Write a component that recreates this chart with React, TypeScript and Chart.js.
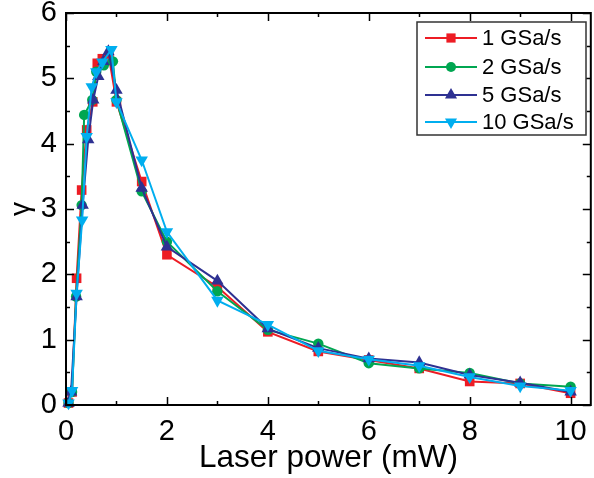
import React, { useEffect, useRef } from 'react';
import { Chart, registerables } from 'chart.js';

Chart.register(...registerables);

// ---- data ----
const seriesLabels = ['1 GSa/s', '2 GSa/s', '5 GSa/s', '10 GSa/s'];
const seriesColors = ['#ED1C24', '#00A651', '#2E3192', '#00AEEF'];
const seriesMarkers = ['rect', 'circle', 'triangle', 'triangleDown'];

const xTail = [1.5, 2, 3, 4, 5, 6, 7, 8, 9, 10];

const x1 = [0.05, 0.12, 0.21, 0.31, 0.41, 0.53, 0.62, 0.72, 0.85, 1.0, ...xTail];
const y1 = [0.03, 0.2, 1.94, 3.29, 4.21, 4.64, 5.23, 5.3, 5.33, 4.64, 3.42, 2.3, 1.81, 1.12, 0.82, 0.69, 0.56, 0.36, 0.33, 0.18];

const x2 = [0.05, 0.12, 0.2, 0.31, 0.36, 0.52, 0.6, 0.75, 0.93, 1.0, ...xTail];
const y2 = [0.03, 0.2, 1.66, 3.06, 4.44, 4.67, 5.1, 5.2, 5.26, 4.67, 3.27, 2.5, 1.74, 1.15, 0.94, 0.64, 0.56, 0.49, 0.33, 0.28];

const x5 = [0.05, 0.1, 0.21, 0.33, 0.44, 0.54, 0.64, 0.74, 0.84, 1.0, ...xTail];
const y5 = [0.03, 0.2, 1.66, 3.06, 4.06, 4.67, 5.03, 5.26, 5.41, 4.82, 3.32, 2.42, 1.9, 1.17, 0.87, 0.71, 0.65, 0.46, 0.34, 0.2];

const x10 = [0.05, 0.12, 0.21, 0.32, 0.41, 0.51, 0.6, 0.72, 0.9, 1.0, ...xTail];
const y10 = [0.03, 0.22, 1.71, 2.83, 4.11, 4.87, 5.1, 5.25, 5.44, 4.64, 3.75, 2.65, 1.6, 1.23, 0.83, 0.7, 0.6, 0.43, 0.29, 0.22];

const seriesX = [x1, x2, x5, x10];
const seriesY = [y1, y2, y5, y10];

const xMajorTicks = [0, 2, 4, 6, 8, 10];
const xMinorTicks = [1, 3, 5, 7, 9];
const yMajorTicks = [0, 1, 2, 3, 4, 5, 6];
const yMinorTicks = [0.5, 1.5, 2.5, 3.5, 4.5, 5.5];

const xTitle = 'Laser power (mW)';
const yTitle = 'γ';

const FONT = "'Liberation Sans', Arial, Helvetica, sans-serif";

function drawMarker(ctx: CanvasRenderingContext2D, kind: string, x: number, y: number, color: string) {
  ctx.fillStyle = color;
  ctx.beginPath();
  if (kind === 'rect') {
    const s = 4.6;
    ctx.rect(x - s, y - s, 2 * s, 2 * s);
  } else if (kind === 'circle') {
    ctx.arc(x, y, 5, 0, Math.PI * 2);
  } else {
    const r = 7;
    const base = kind === 'triangle' ? 0 : Math.PI;
    for (let i = 0; i < 3; i++) {
      const a = base + (i * 2 * Math.PI) / 3;
      const px = x + Math.sin(a) * r;
      const py = y - Math.cos(a) * r;
      if (i === 0) ctx.moveTo(px, py); else ctx.lineTo(px, py);
    }
    ctx.closePath();
  }
  ctx.fill();
}

const framePlugin = {
  id: 'frameTicksLegend',
  afterDraw(chart: any) {
    const { ctx, chartArea } = chart;
    const { left, right, top, bottom } = chartArea;
    const xs = chart.scales.x;
    const ys = chart.scales.y;
    ctx.save();
    ctx.strokeStyle = '#000';
    ctx.lineWidth = 2;
    ctx.strokeRect(left, top, right - left, bottom - top);
    ctx.lineWidth = 1.5;
    ctx.beginPath();
    const tick = (v: number, len: number, axis: 'x' | 'y') => {
      if (axis === 'x') {
        const px = Math.round(xs.getPixelForValue(v)) + 0.5;
        ctx.moveTo(px, bottom); ctx.lineTo(px, bottom - len);
        ctx.moveTo(px, top); ctx.lineTo(px, top + len);
      } else {
        const py = Math.round(ys.getPixelForValue(v)) + 0.5;
        ctx.moveTo(left, py); ctx.lineTo(left + len, py);
        ctx.moveTo(right, py); ctx.lineTo(right - len, py);
      }
    };
    xMajorTicks.forEach(v => tick(v, 8, 'x'));
    xMinorTicks.forEach(v => tick(v, 4, 'x'));
    yMajorTicks.forEach(v => tick(v, 8, 'y'));
    yMinorTicks.forEach(v => tick(v, 4, 'y'));
    ctx.stroke();

    // legend
    const bx = 417, by = 22, bw = 169, bh = 113;
    ctx.fillStyle = '#fff';
    ctx.fillRect(bx, by, bw, bh);
    ctx.strokeStyle = '#333';
    ctx.lineWidth = 1.5;
    ctx.strokeRect(bx, by, bw, bh);
    const rowY = [38, 67, 95, 122];
    ctx.font = `22px ${FONT}`;
    ctx.textBaseline = 'middle';
    ctx.textAlign = 'left';
    seriesLabels.forEach((lab, i) => {
      const yy = rowY[i];
      ctx.strokeStyle = seriesColors[i];
      ctx.lineWidth = 2;
      ctx.beginPath();
      ctx.moveTo(425, yy);
      ctx.lineTo(477, yy);
      ctx.stroke();
      drawMarker(ctx, seriesMarkers[i], 451, yy, seriesColors[i]);
      ctx.fillStyle = '#000';
      ctx.fillText(lab, 482, yy + 1);
    });
    ctx.restore();
  },
};

export default function App() {
  const ref = useRef<HTMLCanvasElement | null>(null);
  useEffect(() => {
    if (!ref.current) return;
    const pointStyles: any[] = ['rect', 'circle', 'triangle', 'triangle'];
    const rotations = [0, 0, 0, 180];
    const radii = [6.8, 5.2, 7.2, 7.2];
    const orders = [3, 2, 1, 0];
    const datasets = seriesLabels.map((lab, i) => ({
      label: lab,
      data: seriesX[i].map((xv, j) => ({ x: xv, y: seriesY[i][j] })),
      borderColor: seriesColors[i],
      backgroundColor: seriesColors[i],
      borderWidth: 2,
      pointStyle: pointStyles[i],
      rotation: rotations[i],
      pointRadius: radii[i],
      pointBorderWidth: 0,
      pointBackgroundColor: seriesColors[i],
      tension: 0,
      order: orders[i],
      clip: false as any,
    }));
    const chart = new Chart(ref.current, {
      type: 'line',
      data: { datasets },
      options: {
        animation: false,
        responsive: false,
        layout: { padding: { top: 13, right: 1, left: 0, bottom: 0 } },
        plugins: { legend: { display: false }, tooltip: { enabled: false } },
        scales: {
          x: {
            type: 'linear',
            min: 0,
            max: 10.4,
            grid: { display: false, drawTicks: false },
            border: { display: false },
            afterBuildTicks: (s: any) => { s.ticks = xMajorTicks.map(v => ({ value: v })); },
            afterFit: (s: any) => { s.height = 73; s.paddingLeft = 0; s.paddingRight = 0; },
            ticks: {
              color: '#000',
              padding: 12,
              maxRotation: 0,
              autoSkip: false,
              font: { family: FONT, size: 29, lineHeight: 1 },
            },
            title: {
              display: true,
              text: xTitle,
              color: '#000',
              padding: { top: 0, bottom: 1 },
              font: { family: FONT, size: 31.5, lineHeight: 1.2 },
            },
          },
          y: {
            type: 'linear',
            min: 0,
            max: 6,
            grid: { display: false, drawTicks: false },
            border: { display: false },
            afterBuildTicks: (s: any) => { s.ticks = yMajorTicks.map(v => ({ value: v })); },
            afterFit: (s: any) => { s.width = 66; s.paddingTop = 0; s.paddingBottom = 0; },
            ticks: {
              color: '#000',
              padding: 9,
              autoSkip: false,
              font: { family: FONT, size: 29, lineHeight: 0.9 },
            },
            title: {
              display: true,
              text: yTitle,
              color: '#000',
              padding: { top: 4, bottom: 0 },
              font: { family: FONT, size: 28, lineHeight: 1.2 },
            },
          },
        },
      },
      plugins: [framePlugin],
    });
    return () => chart.destroy();
  }, []);
  return (
    <div style={{ position: 'fixed', left: 0, top: 0, width: 594, height: 478, overflow: 'hidden', background: '#fff' }}>
      <canvas ref={ref} width={598} height={478} style={{ display: 'block' }} />
    </div>
  );
}
